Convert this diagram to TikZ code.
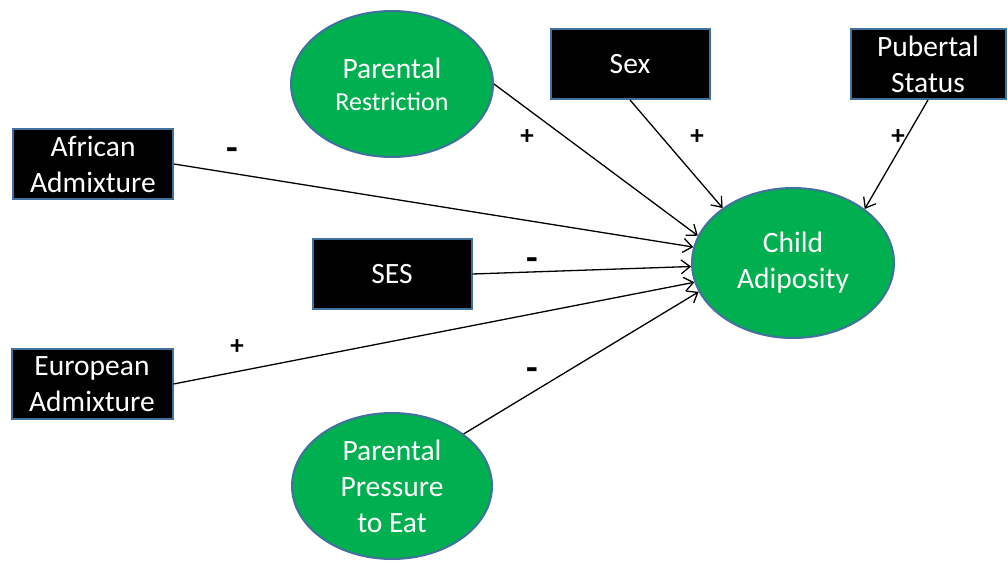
\documentclass[tikz,border=0pt]{standalone}
\usepackage{fontspec}
\setmainfont{Carlito}
\usetikzlibrary{shapes.geometric,arrows.meta}
\definecolor{pgreen}{HTML}{00B050}
\definecolor{pblue}{HTML}{41719C}
\begin{document}
\begin{tikzpicture}[x=1pt,y=-1pt,
  blk/.style={rectangle, fill=black, draw=pblue, line width=2pt, text=white,
    minimum height=70pt, align=center, inner sep=0pt,
    font=\fontsize{29.5}{36}\selectfont},
  ell/.style={ellipse, fill=pgreen, draw=pblue, line width=2pt, text=white,
    align=center, inner sep=0pt, font=\fontsize{29.5}{36}\selectfont},
  arr/.style={-{Straight Barb[length=9pt,width=14pt]}, line width=1.3pt},
  sgn/.style={font=\bfseries\fontsize{27}{27}\selectfont, inner sep=0pt},
  neg/.style={font=\bfseries\fontsize{38}{38}\selectfont, inner sep=0pt}]
\useasboundingbox (0,0) rectangle (1008,562);

\node[blk, minimum width=160pt] (af) at (93,164) {African\\Admixture};
\node[blk, minimum width=159pt] (sex) at (630,64) {Sex};
\node[blk, minimum width=155pt] (pub) at (928,64) {Pubertal\\Status};
\node[blk, minimum width=159pt] (ses) at (392,274) {SES};
\node[blk, minimum width=161pt] (eu) at (92,384) {European\\Admixture};

\node[ell, minimum width=202pt, minimum height=146pt] (pr) at (392,84)
  {Parental\\[-4pt]{\fontsize{26}{30}\selectfont Restriction}};
\node[ell, minimum width=200pt, minimum height=146pt] (pp) at (392,486)
  {Parental\\Pressure\\to Eat};
\node[ell, minimum width=202pt, minimum height=150pt] (ca) at (793,263)
  {Child\\Adiposity};

\draw[arr] (af.east) -- (ca);
\draw[arr] (ses.east) -- (ca);
\draw[arr] (eu.east) -- (ca);
\draw[arr] (pp.36) -- (ca.197);
\draw[arr] (pr.east) -- (ca.164);
\draw[arr] (sex.south) -- (ca.142);
\draw[arr] (pub.south) -- (ca.37);

\node[neg] (s1) at (232,154) {-};
\node[sgn] (s2) at (527,137) {+};
\node[sgn] (s3) at (697,137) {+};
\node[sgn] (s4) at (898,137) {+};
\node[neg] (s5) at (532,264) {-};
\node[sgn] (s6) at (237,347) {+};
\node[neg] (s7) at (532,374) {-};
\end{tikzpicture}
\end{document}
